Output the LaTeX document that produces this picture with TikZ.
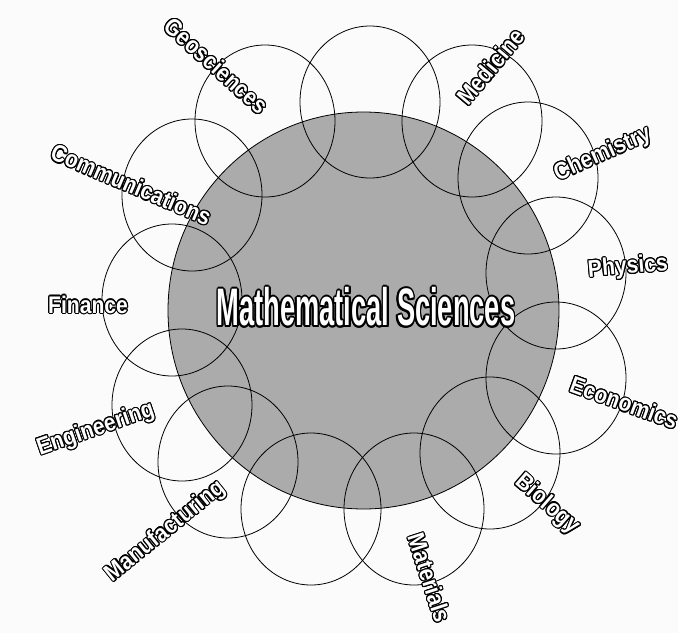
\documentclass[tikz,border=0pt]{standalone}
\usepackage{fontspec}
\usepackage[copies]{contour}
\newfontfamily\labfont[FakeStretch=0.88]{Liberation Sans}
\newfontfamily\bigfont[FakeStretch=0.62]{Liberation Sans}
\contournumber{16}
\begin{document}
\begin{tikzpicture}[x=1pt,y=-1pt,
  ring/.style={draw=black, line width=0.8pt},
  lab/.style={font=\labfont\bfseries\fontsize{24}{24}\selectfont, text=white, inner sep=0pt},
  core/.style={font=\bigfont\bfseries\fontsize{44}{44}\selectfont, text=white, inner sep=0pt}]
\useasboundingbox[fill=gray!3] (0,0) rectangle (678,633);
% central disc
\fill[black!33] (363.5,310.5) ellipse [x radius=195.5, y radius=198.5];
% surrounding circles
\foreach \cx/\cy in {265/121, 370/102, 472/121, 528/178, 556/273, 556/378, 490/453, 414/509, 311/509, 228/462, 182/405, 172/300, 192/195}
  \draw[ring] (\cx,\cy) ellipse [x radius=70, y radius=76];
\draw[ring] (363.5,310.5) ellipse [x radius=195.5, y radius=198.5];
% labels
\contourlength{1.1pt}
\node[lab, rotate=-42] (geo) at (216,66) {\contour{black}{Geosciences}};
\node[lab, rotate=50] (med) at (491,67) {\contour{black}{Medicine}};
\node[lab, rotate=24] (chem) at (603,155) {\contour{black}{Chemistry}};
\node[lab, rotate=5] (phys) at (628,268) {\contour{black}{Physics}};
\node[lab, rotate=-20] (econ) at (624,403) {\contour{black}{Economics}};
\node[lab, rotate=-41] (bio) at (547,505) {\contour{black}{Biology}};
\node[lab, rotate=-72] (mat) at (429,578) {\contour{black}{Materials}};
\node[lab, rotate=39] (manu) at (166,532) {\contour{black}{Manufacturing}};
\node[lab, rotate=19] (eng) at (96,430) {\contour{black}{Engineering}};
\node[lab] (fin) at (88,305) {\contour{black}{Finance}};
\node[lab, rotate=-23] (comm) at (131,185) {\contour{black}{Communications}};
\contourlength{1.6pt}
\node[core, yscale=1.2] (ms) at (366,308) {\contour{black}{Mathematical Sciences}};
\end{tikzpicture}
\end{document}
